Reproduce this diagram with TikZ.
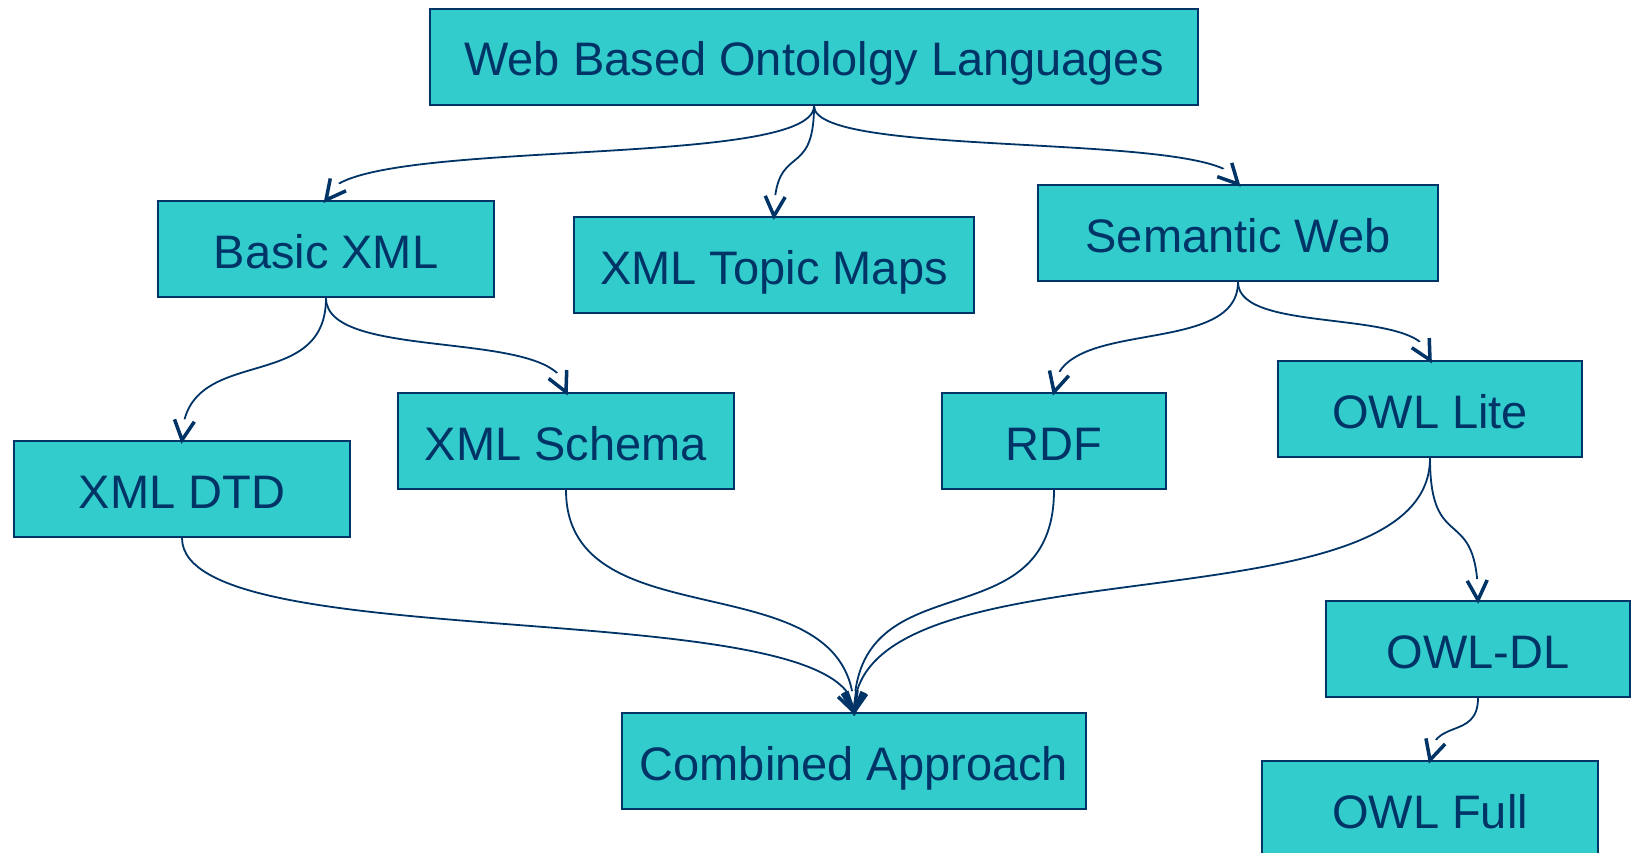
\documentclass[tikz,border=0pt]{standalone}
\usepackage{fontspec}
\setmainfont{Liberation Sans}
\usetikzlibrary{calc,intersections}
\definecolor{boxfill}{HTML}{33CCCC}
\definecolor{navy}{HTML}{003366}
\newcommand\linkto[2]{%
  \path[name path=cv] (#1.south) to[vcurve] (#2.north);
  \path[name path=cr] (#2.north) circle[radius=21pt];
  \path[name intersections={of=cv and cr, by=F}];
  \begin{scope}[even odd rule]
    \clip (-20,-20) rectangle (1700,900) (#2.north) circle[radius=21pt];
    \draw[edgeline] (#1.south) to[vcurve] (#2.north);
  \end{scope}
  \draw[tipline] ($(#2.north)!22pt!27:(F)$) -- (#2.north) -- ($(#2.north)!22pt!-27:(F)$);
}
\begin{document}
\begin{tikzpicture}[x=1pt,y=-1pt,
  box/.style={draw=navy, line width=2pt, fill=boxfill, text=navy,
    minimum height=96pt, inner sep=0pt, text height=38pt, text depth=0pt,
    font=\fontsize{47}{56}\selectfont},
  edgeline/.style={draw=navy, line width=1.8pt},
  tipline/.style={draw=navy, line width=3.5pt, line join=miter, line cap=butt},
  vcurve/.style={to path={.. controls ($(\tikztostart)!0.7!(\tikztostart|-\tikztotarget)$)
      and ($(\tikztotarget)!0.7!(\tikztotarget|-\tikztostart)$) .. (\tikztotarget) \tikztonodes}}]
\useasboundingbox (0,0) rectangle (1633,853);
\node[box, minimum width=768pt] (web) at (814,57) {Web Based Ontololgy Languages};
\node[box, minimum width=336pt] (basic) at (326,249) {Basic XML};
\node[box, minimum width=400pt] (topic) at (774,265) {XML Topic Maps};
\node[box, minimum width=400pt] (sem) at (1238,233) {Semantic Web};
\node[box, minimum width=336pt] (dtd) at (182,489) {XML DTD};
\node[box, minimum width=336pt] (schema) at (566,441) {XML Schema};
\node[box, minimum width=224pt] (rdf) at (1054,441) {RDF};
\node[box, minimum width=304pt] (owllite) at (1430,409) {OWL Lite};
\node[box, minimum width=304pt] (owldl) at (1478,649) {OWL-DL};
\node[box, minimum width=464pt] (combined) at (854,761) {Combined Approach};
\node[box, minimum width=336pt] (owlfull) at (1430,809) {OWL Full};
\linkto{web}{basic}
\linkto{web}{topic}
\linkto{web}{sem}
\linkto{basic}{dtd}
\linkto{basic}{schema}
\linkto{sem}{rdf}
\linkto{sem}{owllite}
\linkto{owllite}{owldl}
\linkto{owldl}{owlfull}
\linkto{dtd}{combined}
\linkto{schema}{combined}
\linkto{rdf}{combined}
\linkto{owllite}{combined}
\end{tikzpicture}
\end{document}
